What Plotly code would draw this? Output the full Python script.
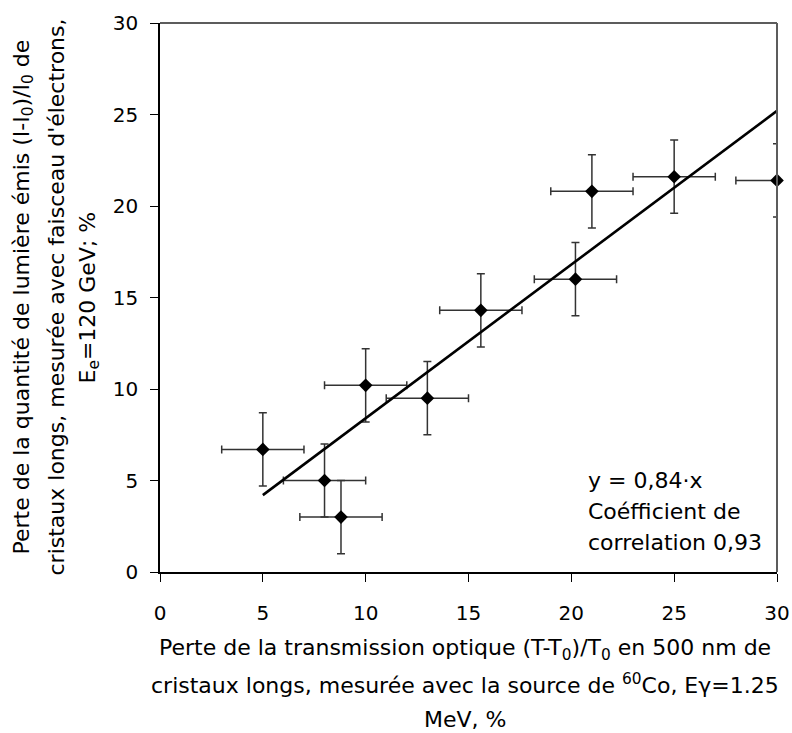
import plotly.graph_objects as go

# Optical transmission loss (60Co source) vs light-yield loss (120 GeV electrons), in %
transmission_loss = [5.0, 8.0, 8.8, 10.0, 13.0, 15.6, 20.2, 21.0, 25.0, 30.0]
light_yield_loss = [6.7, 5.0, 3.0, 10.2, 9.5, 14.3, 16.0, 20.8, 21.6, 21.4]
transmission_err = [2.0, 2.0, 2.0, 2.0, 2.0, 2.0, 2.0, 2.0, 2.0, 2.0]
light_yield_err = [2.0, 2.0, 2.0, 2.0, 2.0, 2.0, 2.0, 2.0, 2.0, 2.0]

# Linear fit through the origin
fit_slope = 0.84
fit_x = [5.0, 30.0]
correlation = 0.93

axis_ticks = [0, 5, 10, 15, 20, 25, 30]

FONT = "DejaVu Sans, Liberation Sans, Arial, sans-serif"
ERR_COLOR = "#333333"

fig = go.Figure()

# Error bars (clipped to the plotting area)
fig.add_trace(go.Scatter(
    x=transmission_loss, y=light_yield_loss, mode="markers",
    marker=dict(size=1, color="rgba(0,0,0,0)"),
    error_x=dict(type="data", array=transmission_err, color=ERR_COLOR, thickness=1.5, width=4),
    error_y=dict(type="data", array=light_yield_err, color=ERR_COLOR, thickness=1.5, width=4),
    cliponaxis=True, showlegend=False, hoverinfo="skip",
))

# Fit line
fig.add_trace(go.Scatter(
    x=fit_x, y=[fit_slope * v for v in fit_x], mode="lines",
    line=dict(color="black", width=2.6), showlegend=False,
))

# Data points
fig.add_trace(go.Scatter(
    x=transmission_loss, y=light_yield_loss, mode="markers",
    marker=dict(symbol="diamond", size=10.5, color="black"),
    cliponaxis=False, showlegend=False,
))

tick_font = dict(family=FONT, size=20, color="black")
title_font = dict(family=FONT, size=22, color="black")

axis_style = dict(
    range=[0, 30], tickvals=axis_ticks, ticktext=[str(t) for t in axis_ticks],
    showgrid=False, zeroline=False, showline=True, linecolor="black", linewidth=1.5,
    ticks="outside", ticklen=8, tickwidth=1.2, tickcolor="black",
    tickfont=tick_font, automargin=False,
)
fig.update_xaxes(**axis_style, ticklabelstandoff=14)
fig.update_yaxes(**axis_style, ticklabelstandoff=8)

# Plot-area frame on the top and right sides
frame = dict(color="#5c5c5c", width=2)
shapes = [
    dict(type="line", xref="paper", yref="paper", x0=0, x1=1, y0=1, y1=1, line=frame),
    dict(type="line", xref="paper", yref="paper", x0=1, x1=1, y0=0, y1=1, line=frame),
]

x_title_lines = [
    "Perte de la transmission optique (T-T<sub>0</sub>)/T<sub>0</sub> en 500 nm de",
    "cristaux longs, mesurée avec la source de <sup>60</sup>Co, Eγ=1.25",
    "MeV, %",
]
y_title_lines = [
    "Perte de la quantité de lumière émis (I-I<sub>0</sub>)/I<sub>0</sub> de",
    "cristaux longs, mesurée avec faisceau d'électrons,",
    "E<sub>e</sub>=120 GeV; %",
]

annotations = []
for i, line in enumerate(x_title_lines):
    annotations.append(dict(
        text=line, xref="paper", yref="paper", x=0.494, y=0, yshift=-(77 + 35 * i),
        xanchor="center", yanchor="middle", showarrow=False, font=title_font,
    ))
for i, line in enumerate(y_title_lines):
    annotations.append(dict(
        text=line, xref="paper", yref="paper", x=0, xshift=-(137 - 33 * i), y=0.5,
        xanchor="center", yanchor="middle", textangle=-90, showarrow=False, font=title_font,
    ))

# Fit equation and correlation coefficient
fit_lines = [
    f"y = {fit_slope:.2f}·x".replace(".", ","),
    "Coéfficient de",
    f"correlation {correlation:.2f}".replace(".", ","),
]
for i, line in enumerate(fit_lines):
    annotations.append(dict(
        text=line, xref="paper", yref="paper", x=(586.5 - 160) / 617.5, y=0,
        yshift=92 - 31 * i, xanchor="left", yanchor="middle",
        showarrow=False, font=title_font,
    ))

fig.update_layout(
    width=792, height=733,
    margin=dict(l=160, r=14.5, t=23, b=160.5),
    paper_bgcolor="white", plot_bgcolor="white",
    shapes=shapes, annotations=annotations,
)

fig.write_html("out.html")
